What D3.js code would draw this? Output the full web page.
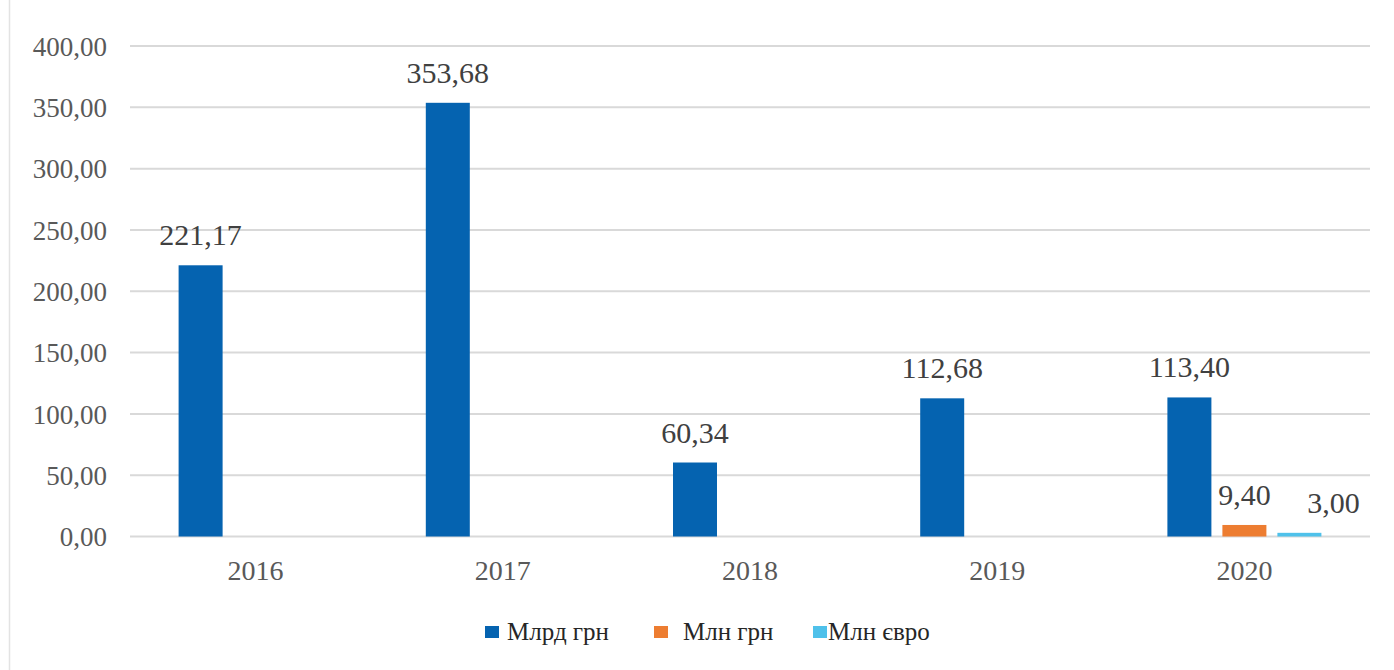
<!DOCTYPE html>
<html><head><meta charset="utf-8">
<script src="https://cdn.jsdelivr.net/npm/d3@7/dist/d3.min.js"></script>
<style>
html,body{margin:0;padding:0;background:#fff;}
svg{display:block;}
</style></head>
<body>
<svg id="chart" width="1394" height="670"></svg>
<script>
const categories = ["2016","2017","2018","2019","2020"];
const seriesNames = ["Млрд грн","Млн грн","Млн євро"];
const mlrdGrn = [221.17, 353.68, 60.34, 112.68, 113.40];
const mlnGrn  = [null, null, null, null, 9.40];
const mlnEuro = [null, null, null, null, 3.00];
const yTicks = [0,50,100,150,200,250,300,350,400];
const colors = ["#0563b0","#ed7d31","#4fc1ea"];

const seriesValues = [mlrdGrn, mlnGrn, mlnEuro];
const fmt = v => d3.format(".2f")(v).replace(".", ",");
const FONT = '"Liberation Serif", "Times New Roman", serif';

const svg = d3.select("#chart");
const W = 1394, H = 670;
const plot = {left:132, right:1368, top:46, bottom:536.5};

// left border
svg.append("line").attr("x1",9.5).attr("x2",9.5).attr("y1",0).attr("y2",H)
  .attr("stroke","#e3e3e3").attr("stroke-width",1.5);

const y = d3.scaleLinear().domain([0,400]).range([plot.bottom, plot.top]);
const x0 = d3.scaleBand().domain(categories).range([plot.left, plot.right]).padding(0);
const x1 = d3.scaleBand().domain(seriesNames).range([-77, 77]).paddingInner(0.2);

// gridlines
svg.append("g").selectAll("line").data(yTicks).join("line")
  .attr("x1", plot.left - 2).attr("x2", plot.right + 2)
  .attr("y1", d => y(d)).attr("y2", d => y(d))
  .attr("stroke","#d9d9d9").attr("stroke-width",2);

// y axis labels
const yAxis = d3.axisLeft(y).tickValues(yTicks).tickSize(0).tickPadding(0).tickFormat(fmt);
const gy = svg.append("g").attr("transform",`translate(${plot.left-25},0)`).call(yAxis);
gy.select(".domain").remove();
gy.selectAll("text").style("font-family", FONT).style("font-size","27px")
  .attr("fill","#595959").attr("dy","0.34em");

// x axis labels
const xAxis = d3.axisBottom(x0).tickSize(0).tickPadding(0);
const gx = svg.append("g").attr("transform",`translate(0,${plot.bottom})`).call(xAxis);
gx.select(".domain").remove();
gx.selectAll("text").style("font-family", FONT).style("font-size","28px")
  .attr("fill","#595959").attr("dy",0).attr("y",43);

// bars
const rows = [];
categories.forEach((c,i) => seriesNames.forEach((s,j) => {
  const v = seriesValues[j][i];
  if (v != null) rows.push({cat:c, ser:s, j, v});
}));
const cx = d => x0(d.cat) + x0.bandwidth()/2 + x1(d.ser);
svg.append("g").selectAll("rect").data(rows).join("rect")
  .attr("x", cx).attr("width", x1.bandwidth())
  .attr("y", d => y(d.v)).attr("height", d => plot.bottom - y(d.v))
  .attr("fill", d => colors[d.j]);

// value labels
svg.append("g").selectAll("text").data(rows).join("text")
  .attr("x", d => cx(d) + x1.bandwidth()/2 + (d.j === 2 ? 34 : 0))
  .attr("y", d => y(d.v) - 20)
  .attr("text-anchor","middle")
  .style("font-family", FONT).style("font-size","30px")
  .attr("fill","#404040")
  .text(d => fmt(d.v));

// legend
const legendX = [485, 654, 813];
const legendTextX = [22, 29, 15];
const lg = svg.append("g");
seriesNames.forEach((s,j) => {
  const g = lg.append("g").attr("transform",`translate(${legendX[j]},632)`);
  g.append("rect").attr("x",0).attr("y",-6).attr("width",14).attr("height",12).attr("fill",colors[j]);
  g.append("text").attr("x", legendTextX[j]).attr("y",0).attr("dy","0.33em")
    .style("font-family", FONT).style("font-size","25px")
    .attr("fill","#262626").text(s);
});
</script>
</body></html>
